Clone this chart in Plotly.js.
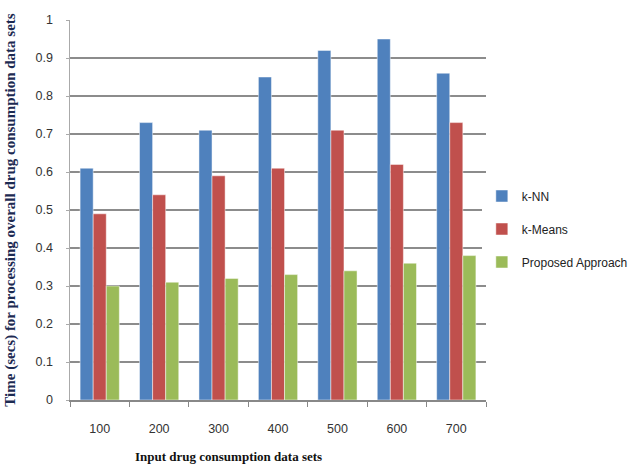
<!DOCTYPE html>
<html>
<head>
<meta charset="utf-8">
<script src="https://cdn.plot.ly/plotly-3.0.1.min.js"></script>
<style>html,body{margin:0;padding:0;background:#fff;}#chart{width:638px;height:466px;}</style>
</head>
<body>
<div id="chart"></div>
<script>
const categories = ["100", "200", "300", "400", "500", "600", "700"];
const knn = [0.61, 0.73, 0.71, 0.85, 0.92, 0.95, 0.86];
const kmeans = [0.49, 0.54, 0.59, 0.61, 0.71, 0.62, 0.73];
const proposed = [0.30, 0.31, 0.32, 0.33, 0.34, 0.36, 0.38];
const seriesNames = ["k-NN", "k-Means", "Proposed Approach"];
const colors = ["#4F81BD", "#C0504D", "#9BBB59"];
const xTitle = "Input drug consumption data sets";
const yTitle = "Time (secs) for processing overall drug consumption data sets";

const data = [knn, kmeans, proposed].map((vals, i) => ({
  type: "bar",
  x: categories,
  y: vals,
  name: seriesNames[i],
  legendgroup: "g" + i,
  marker: {color: colors[i], line: {color: "rgba(255,255,255,0.6)", width: 0.8}}
}));

const layout = {
  width: 638, height: 466,
  margin: {l: 70, r: 152, t: 20, b: 66, autoexpand: false},
  paper_bgcolor: "#fff", plot_bgcolor: "#fff",
  barmode: "group", bargap: 0.34, bargroupgap: 0,
  showlegend: true,
  legend: {x: 0.99, y: 0.45, xanchor: "left", yanchor: "middle",
    font: {family: "Liberation Sans, sans-serif", size: 12, color: "#222"},
    tracegroupgap: 14, itemwidth: 30, traceorder: "grouped"},
  font: {family: "Liberation Sans, sans-serif", size: 12, color: "#333"},
  xaxis: {
    type: "category",
    showgrid: false, zeroline: false,
    showline: true, linecolor: "#888", linewidth: 1.5,
    ticks: "outside", tickson: "boundaries", ticklen: 5, tickcolor: "#888",
    ticklabelstandoff: 16,
    tickfont: {size: 12.5, color: "#333"}
  },
  yaxis: {
    range: [0, 1], dtick: 0.1,
    showgrid: true, gridcolor: "#8c8c8c", gridwidth: 1.5,
    zeroline: false, showline: true, linecolor: "#aaa", linewidth: 1.5,
    ticks: "outside", ticklen: 3, tickcolor: "#aaa",
    ticklabelstandoff: 10,
    tickfont: {size: 12.5, color: "#333"},
    title: {text: yTitle, standoff: 16,
      font: {family: "Liberation Serif, serif", size: 15, color: "#1c2a52", weight: "bold"}}
  },
  annotations: [{
    text: xTitle, xref: "paper", yref: "paper",
    x: 0.382, y: -0.15, xanchor: "center", yanchor: "middle", showarrow: false,
    font: {family: "Liberation Serif, serif", size: 13, color: "#111", weight: "bold"}
  }]
};

Plotly.newPlot("chart", data, layout, {displayModeBar: false, staticPlot: true});
</script>
</body>
</html>
